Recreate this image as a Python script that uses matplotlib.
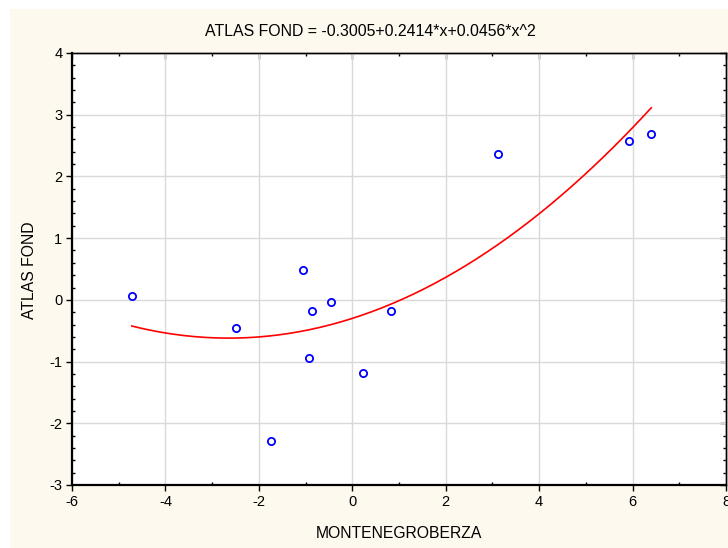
import matplotlib
matplotlib.use("Agg")
import matplotlib.pyplot as plt
import matplotlib.patches as mpatches
from matplotlib.ticker import MultipleLocator
import numpy as np

plt.rcParams['font.family'] = ['Liberation Sans', 'DejaVu Sans']
plt.rcParams['font.size'] = 10

# Data
montenegroberza = [-4.72, -2.50, -1.06, -0.86, -0.46, -0.93, -1.73, 0.22, 0.82, 3.12, 5.93, 6.40]
atlas_fond = [0.07, -0.45, 0.48, -0.18, -0.04, -0.94, -2.29, -1.19, -0.18, 2.37, 2.57, 2.68]
fit_coefs = [-0.3005, 0.2414, 0.0456]  # c0 + c1*x + c2*x^2
title = "ATLAS FOND = -0.3005+0.2414*x+0.0456*x^2"
xlabel = "MONTENEGROBERZA"
ylabel = "ATLAS FOND"
x_ticks = [-6, -4, -2, 0, 2, 4, 6, 8]
y_ticks = [-3, -2, -1, 0, 1, 2, 3, 4]

W, H = 728, 548
cream = '#FDF9EE'
fig = plt.figure(figsize=(W / 100, H / 100), dpi=100, facecolor=cream)
# white strips at top and left
fig.patches.append(mpatches.Rectangle((0, 1 - 9 / H), 1, 9 / H, transform=fig.transFigure,
                                      facecolor='white', edgecolor='none', zorder=-10))
fig.patches.append(mpatches.Rectangle((0, 0), 10 / W, 1, transform=fig.transFigure,
                                      facecolor='white', edgecolor='none', zorder=-10))

ax = fig.add_axes([72 / W, 1 - 485 / H, 654 / W, 432 / H])
ax.set_facecolor('white')

xs = np.linspace(min(montenegroberza), max(montenegroberza), 200)
ys = fit_coefs[0] + fit_coefs[1] * xs + fit_coefs[2] * xs ** 2
ax.plot(xs, ys, color='#FF0000', lw=1.2, zorder=3)
ax.plot(montenegroberza, atlas_fond, linestyle='none', marker='o', markersize=5.2,
        markerfacecolor='none', markeredgecolor='#0000FF', markeredgewidth=1.3, zorder=4)

ax.set_xlim(-6, 8)
ax.set_ylim(-3, 4)
ax.set_xticks(x_ticks)
ax.set_yticks(y_ticks)
ax.set_xticklabels([str(t) for t in x_ticks])
ax.set_yticklabels([str(t) for t in y_ticks])
ax.xaxis.set_minor_locator(MultipleLocator(1))
ax.yaxis.set_minor_locator(MultipleLocator(0.2))

ax.grid(True, which='major', color='#D9D9D9', lw=1.0, zorder=0)
ax.set_axisbelow(True)

ax.tick_params(which='major', direction='out', length=4, width=1, color='black',
               labelsize=10.5, pad=3)
ax.tick_params(which='minor', direction='in', length=2.5, width=1, color='black')

for s in ['left', 'bottom']:
    ax.spines[s].set_linewidth(1.6)
for s in ['top', 'right']:
    ax.spines[s].set_linewidth(1.0)

# top and right axes with inward ticks
secx = ax.secondary_xaxis('top')
secx.set_xticks(x_ticks)
secx.xaxis.set_minor_locator(MultipleLocator(1))
secx.tick_params(which='major', direction='in', length=4, width=1, labeltop=False)
secx.tick_params(which='minor', direction='in', length=2.5, width=1)
secx.spines['top'].set_linewidth(1.0)

secy = ax.secondary_yaxis('right')
secy.set_yticks(y_ticks)
secy.yaxis.set_minor_locator(MultipleLocator(0.2))
secy.tick_params(which='major', direction='in', length=4, width=1, labelright=False)
secy.tick_params(which='minor', direction='in', length=2.5, width=1)
secy.spines['right'].set_linewidth(1.0)

fig.text(370 / W, 1 - 32 / H, title, ha='center', va='center', fontsize=11.4)
fig.text(399 / W, 1 - 534 / H, xlabel, ha='center', va='center', fontsize=11.3)
fig.text(30 / W, 1 - 270 / H, ylabel, ha='center', va='center', rotation=90, fontsize=11.3)

fig.savefig('out.png', dpi=100, facecolor=fig.get_facecolor())
